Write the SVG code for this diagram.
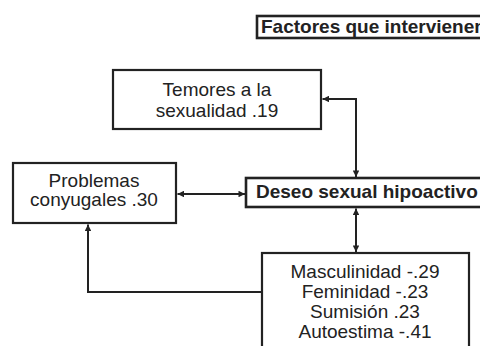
<svg xmlns="http://www.w3.org/2000/svg" width="480" height="346" viewBox="0 0 480 346">
<style>
.box{fill:#fff;stroke:#222;stroke-width:2.2}
.t{font-family:"Liberation Sans",Arial,sans-serif;font-size:19px;fill:#222;text-anchor:middle}
.b{font-weight:bold;text-anchor:start}
.c{fill:none;stroke:#222;stroke-width:2}
</style>
<defs>
<marker id="ah" viewBox="0 0 10 10" refX="10" refY="5" markerWidth="8" markerHeight="6.5" markerUnits="userSpaceOnUse" orient="auto-start-reverse">
<path d="M0,0 L10,5 L0,10 z" fill="#222"/>
</marker>
</defs>
<g id="title">
<rect class="box" x="257" y="16" width="240" height="22" style="stroke-width:2.6"/>
<text class="t b" x="261" y="33">Factores que intervienen</text>
</g>
<g id="temores">
<rect class="box" x="113" y="70" width="208" height="59"/>
<text class="t" x="217" y="96">Temores a la</text>
<text class="t" x="217" y="117">sexualidad .19</text>
</g>
<g id="problemas">
<rect class="box" x="13" y="163" width="163" height="60"/>
<text class="t" x="94" y="187">Problemas</text>
<text class="t" x="94" y="206">conyugales .30</text>
</g>
<g id="deseo">
<rect class="box" x="246" y="178" width="250" height="29" style="stroke-width:2.6"/>
<text class="t b" x="256" y="198">Deseo sexual hipoactivo</text>
</g>
<g id="factores">
<rect class="box" x="262" y="253" width="207" height="110"/>
<text class="t" x="365" y="278">Masculinidad -.29</text>
<text class="t" x="365" y="298">Feminidad -.23</text>
<text class="t" x="365" y="318">Sumisión .23</text>
<text class="t" x="365" y="338">Autoestima -.41</text>
</g>
<g id="connectors">
<path class="c" d="M322.5,99 H356 V177" marker-start="url(#ah)" marker-end="url(#ah)"/>
<path class="c" d="M177.5,194 H245" marker-start="url(#ah)" marker-end="url(#ah)"/>
<path class="c" d="M356,208.5 V252" marker-start="url(#ah)" marker-end="url(#ah)"/>
<path class="c" d="M262,292 H88 V224.5" marker-end="url(#ah)"/>
</g>
</svg>
